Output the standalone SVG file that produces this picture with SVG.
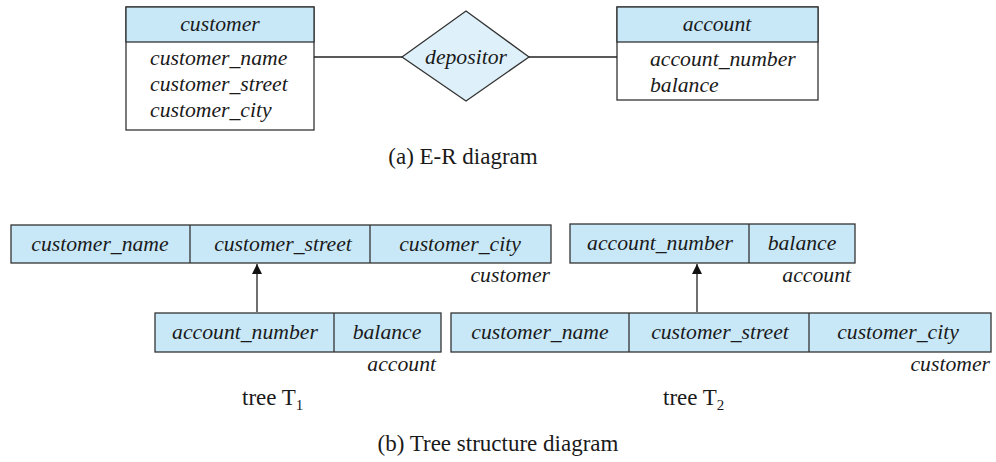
<svg xmlns="http://www.w3.org/2000/svg" width="996" height="462" viewBox="0 0 996 462">
  <defs>
    <marker id="arrow" viewBox="0 0 10 10" refX="10" refY="5" markerWidth="11" markerHeight="10" markerUnits="userSpaceOnUse" orient="auto">
      <path d="M0,0 L10,5 L0,10 Z" fill="#111"/>
    </marker>
  </defs>
  <style>
    .box { fill: #ffffff; stroke: #333; stroke-width: 1.3; }
    .hdr { fill: #c8e8f8; stroke: #333; stroke-width: 1.3; }
    .rec { fill: #c8e8f8; stroke: #333; stroke-width: 1.3; }
    .div { stroke: #333; stroke-width: 1.3; }
    .rel { fill: #def1fa; stroke: #333; stroke-width: 1.3; }
    .edge { stroke: #222; stroke-width: 1.3; fill: none; }
    text { font-family: "Liberation Serif", "DejaVu Serif", serif; fill: #1a1a1a; }
    .it { font-style: italic; font-size: 21.7px; }
    .mid { text-anchor: middle; }
    .end { text-anchor: end; }
    .cap { font-size: 23px; }
  </style>

  <!-- E-R diagram -->
  <g id="customer-entity">
    <rect class="box" x="126" y="7" width="188" height="123"/>
    <rect class="hdr" x="126" y="7" width="188" height="35"/>
    <text class="it mid" x="220" y="31">customer</text>
    <text class="it" x="150" y="65">customer_name</text>
    <text class="it" x="150" y="91">customer_street</text>
    <text class="it" x="150" y="117">customer_city</text>
  </g>

  <g id="depositor-rel">
    <polygon class="rel" points="402,57 466,11 529,57 466,101"/>
    <text class="it mid" x="466" y="64">depositor</text>
  </g>

  <g id="account-entity">
    <rect class="box" x="617" y="7" width="201" height="93"/>
    <rect class="hdr" x="617" y="7" width="201" height="35"/>
    <text class="it mid" x="717" y="31">account</text>
    <text class="it" x="650" y="66">account_number</text>
    <text class="it" x="650" y="92">balance</text>
  </g>

  <text class="cap mid" x="463" y="164">(a) E-R diagram</text>

  <!-- Tree T1 -->
  <g id="t1-customer">
    <rect class="rec" x="11" y="225" width="540" height="38"/>
    <line class="div" x1="190" y1="225" x2="190" y2="263"/>
    <line class="div" x1="370" y1="225" x2="370" y2="263"/>
    <text class="it mid" x="100" y="251">customer_name</text>
    <text class="it mid" x="283" y="251">customer_street</text>
    <text class="it mid" x="460" y="251">customer_city</text>
    <text class="it end" x="550" y="282">customer</text>
  </g>

  <g id="t1-account">
    <rect class="rec" x="155" y="313" width="286" height="39"/>
    <line class="div" x1="334" y1="313" x2="334" y2="352"/>
    <text class="it mid" x="245" y="339">account_number</text>
    <text class="it mid" x="387" y="339">balance</text>
    <text class="it end" x="436" y="371">account</text>
  </g>

  <!-- Tree T2 -->
  <g id="t2-account">
    <rect class="rec" x="570" y="224" width="285" height="39"/>
    <line class="div" x1="749" y1="224" x2="749" y2="263"/>
    <text class="it mid" x="660" y="250">account_number</text>
    <text class="it mid" x="802" y="250">balance</text>
    <text class="it end" x="851" y="282">account</text>
  </g>

  <g id="t2-customer">
    <rect class="rec" x="451" y="313" width="540" height="39"/>
    <line class="div" x1="629" y1="313" x2="629" y2="352"/>
    <line class="div" x1="809" y1="313" x2="809" y2="352"/>
    <text class="it mid" x="540" y="339">customer_name</text>
    <text class="it mid" x="720" y="339">customer_street</text>
    <text class="it mid" x="898" y="339">customer_city</text>
    <text class="it end" x="990" y="371">customer</text>
  </g>

  <g id="connectors">
    <line class="edge" x1="314" y1="57" x2="402" y2="57"/>
    <line class="edge" x1="529" y1="57" x2="617" y2="57"/>
    <line class="edge" x1="257" y1="312" x2="257" y2="264" marker-end="url(#arrow)"/>
    <line class="edge" x1="697" y1="312" x2="697" y2="264" marker-end="url(#arrow)"/>
  </g>

  <text class="cap" x="242" y="405">tree T<tspan font-size="15" dy="5">1</tspan></text>
  <text class="cap" x="663" y="405">tree T<tspan font-size="15" dy="5">2</tspan></text>

  <text class="cap mid" x="498" y="451">(b) Tree structure diagram</text>
</svg>
